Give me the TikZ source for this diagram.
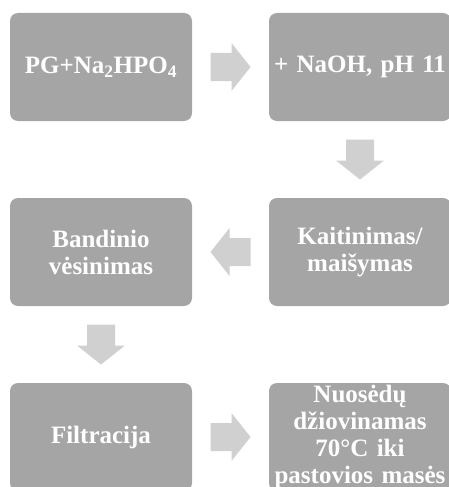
\documentclass[tikz,border=0pt]{standalone}
\usepackage{fontspec}
\setmainfont{Liberation Serif}
\usetikzlibrary{calc}
\definecolor{boxgray}{HTML}{A5A5A5}
\definecolor{arrowgray}{HTML}{D0D0D0}
\tikzset{
  stepbox/.style={fill=boxgray, rounded corners=8pt, minimum width=182pt, minimum height=108pt,
    inner sep=0pt, text=white, align=center, text width=180pt,
    font=\fontsize{25}{27}\selectfont\bfseries},
  pics/blockarrow/.style={code={
    \fill[arrowgray] (-20,-14) -- (1,-14) -- (1,-24) -- (20,0) -- (1,24) -- (1,14) -- (-20,14) -- cycle;}}
}
\begin{document}
\begin{tikzpicture}[x=1pt,y=-1pt]
\useasboundingbox (0,0) rectangle (449,487);
\clip (0,0) rectangle (449,487);
\node[stepbox] (b1) at (101,67) {PG+Na\textsubscript{2}HPO\textsubscript{4}};
\node[stepbox] (b2) at (360,67) {+ NaOH, pH 11};
\node[stepbox] (b4) at (360,252) {Kaitinimas/\\maišymas};
\node[stepbox] (b3) at (101,252) {Bandinio\\vėsinimas};
\node[stepbox] (b5) at (101,437) {Filtracija};
\node[stepbox] (b6) at (360,437) {Nuosėdų\\džiovinamas\\70°C iki\\pastovios masės};
\pic at ($(b1.east)!0.5!(b2.west)$) {blockarrow};
\pic[rotate=-90] at ($(b2.south)!0.5!(b4.north)$) {blockarrow};
\pic[rotate=180] at ($(b4.west)!0.5!(b3.east)$) {blockarrow};
\pic[rotate=-90] at ($(b3.south)!0.5!(b5.north)$) {blockarrow};
\pic at ($(b5.east)!0.5!(b6.west)$) {blockarrow};
\end{tikzpicture}
\end{document}
